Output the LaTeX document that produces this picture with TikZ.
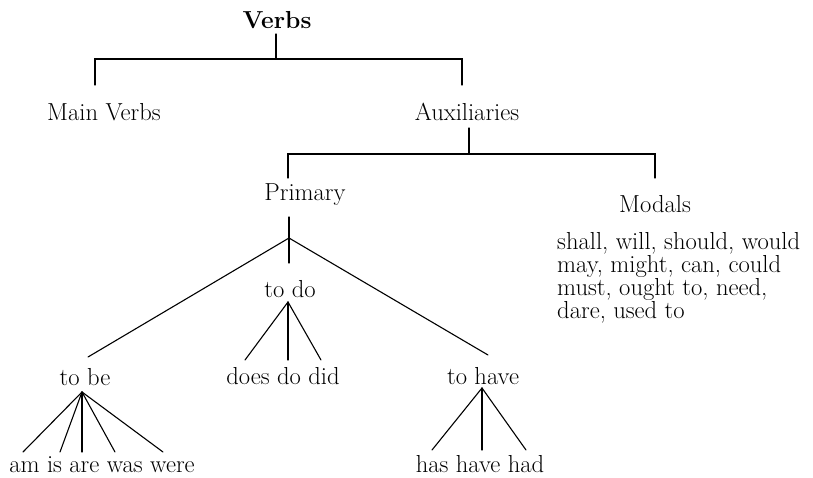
\documentclass[tikz,border=0pt]{standalone}
\usepackage{fontspec}
\begin{document}
\begin{tikzpicture}[x=1pt,y=-1pt,
  lbl/.style={font=\fontsize{24.6}{29}\selectfont, inner sep=0pt, anchor=base},
  edge/.style={line width=1.1pt, line cap=round}]
\useasboundingbox (0,0) rectangle (813,477);
% text nodes
\node[lbl, font=\fontsize{24.6}{29}\selectfont\bfseries] (verbs) at (277,28) {Verbs};
\node[lbl] (main) at (104,120) {Main Verbs};
\node[lbl] (aux) at (467,120) {Auxiliaries};
\node[lbl] (prim) at (305,200) {Primary};
\node[lbl] (modals) at (655,212) {Modals};
\node[inner sep=0pt, anchor=north west, align=left,
      font=\fontsize{24.6}{23}\selectfont]
  (mlist) at (557,232) {shall, will, should, would\\may, might, can, could\\must, ought to, need,\\dare, used to};
\node[lbl] (todo) at (290,297) {to do};
\node[lbl] (tobe) at (85,385) {to be};
\node[lbl] (dodid) at (283,384) {does do did};
\node[lbl] (tohave) at (483,384) {to have};
\node[lbl] (bes) at (102,472) {am is are was were};
\node[lbl] (haves) at (480,472) {has have had};
% junction coordinates
\coordinate (vtop) at (276,34);
\coordinate (vj) at (276,59);
\coordinate (vl) at (95,59);
\coordinate (vr) at (462,59);
\coordinate (mainT) at (95,85);
\coordinate (auxT) at (462,85);
\coordinate (auxB) at (469,128);
\coordinate (aj) at (469,154);
\coordinate (al) at (288,154);
\coordinate (ar) at (655,154);
\coordinate (primT) at (288,178);
\coordinate (modT) at (655,178);
\coordinate (primB) at (289,217);
\coordinate (pa) at (289,238);
\coordinate (todoT) at (289,263);
\coordinate (tobeT) at (88,357);
\coordinate (tohaveT) at (488,355);
\coordinate (da) at (288,302);
\coordinate (d1) at (245,360);
\coordinate (d2) at (288,360);
\coordinate (d3) at (321,360);
\coordinate (ba) at (82,392);
\coordinate (b1) at (23,452);
\coordinate (b2) at (60,452);
\coordinate (b3) at (82,452);
\coordinate (b4) at (115,452);
\coordinate (b5) at (163,452);
\coordinate (ha) at (482,388);
\coordinate (h1) at (432,450);
\coordinate (h2) at (482,450);
\coordinate (h3) at (526,450);
% connectors
\draw[edge] (vtop) -- (vj);
\draw[edge] (mainT) -- (vl) -- (vr) -- (auxT);
\draw[edge] (auxB) -- (aj);
\draw[edge] (primT) -- (al) -- (ar) -- (modT);
\draw[edge] (primB) -- (todoT);
\draw[edge] (tobeT) -- (pa) -- (tohaveT);
\draw[edge] (da) -- (d1);
\draw[edge] (da) -- (d2);
\draw[edge] (da) -- (d3);
\foreach \e in {b1,b2,b3,b4,b5} \draw[edge] (ba) -- (\e);
\foreach \e in {h1,h2,h3} \draw[edge] (ha) -- (\e);
\end{tikzpicture}
\end{document}
